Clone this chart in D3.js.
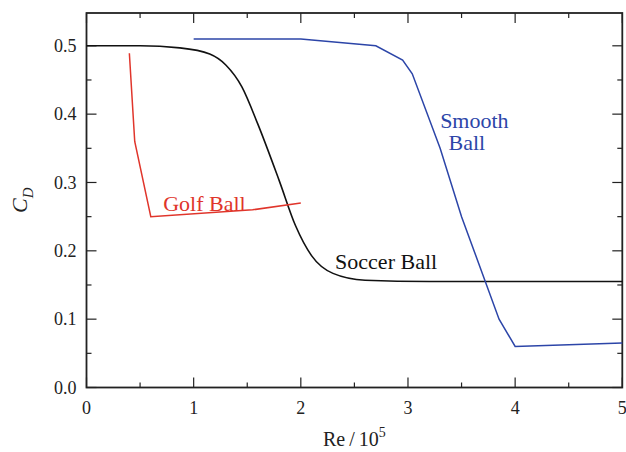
<!DOCTYPE html>
<html>
<head>
<meta charset="utf-8">
<script src="https://cdn.jsdelivr.net/npm/d3@7"></script>
<style>
  body { margin: 0; background: #fff; }
  svg text { font-family: "Liberation Serif", "Times New Roman", serif; }
</style>
</head>
<body>
<svg id="chart" width="626" height="452"></svg>
<script>
// data: [Re/1e5, C_D]
const soccerBall = [
  [0, 0.5], [0.5, 0.5], [0.87, 0.497], [1.15, 0.488], [1.3, 0.472], [1.45, 0.44],
  [1.6, 0.385], [1.8, 0.302], [1.95, 0.237], [2.1, 0.193], [2.3, 0.167],
  [2.6, 0.157], [3.2, 0.155], [5, 0.155]
];
const golfBall = [[0.4, 0.489], [0.45, 0.36], [0.6, 0.25], [1.55, 0.26], [2.0, 0.27]];
const smoothBall = [
  [1.0, 0.51], [2.0, 0.51], [2.7, 0.5], [2.95, 0.479], [3.04, 0.459],
  [3.3, 0.35], [3.5, 0.25], [3.85, 0.1], [4.0, 0.06], [5.0, 0.065]
];
const xMajor = [0, 1, 2, 3, 4, 5];
const xMinor = [0.5, 1.5, 2.5, 3.5, 4.5];
const yMajor = [0, 0.1, 0.2, 0.3, 0.4, 0.5];
const yMinor = [0.05, 0.15, 0.25, 0.35, 0.45];

const svg = d3.select("#chart");
const margin = { top: 13, left: 86.5 };
const innerWidth = 622.3 - margin.left,
  innerHeight = 387.5 - margin.top;

const g = svg.append("g").attr("transform", `translate(${margin.left},${margin.top})`);

const x = d3.scaleLinear().domain([0, 5]).range([0, innerWidth]);
const y = d3.scaleLinear().domain([0, 0.548]).range([innerHeight, 0]);

const axisColor = "#222";

// ticks point inward, on all four sides
function xticks(vals, len) {
  [innerHeight, 0].forEach(base => {
    const dir = base === 0 ? 1 : -1;
    g.selectAll(null).data(vals).enter().append("line")
      .attr("x1", d => x(d)).attr("x2", d => x(d))
      .attr("y1", base).attr("y2", base + dir * len)
      .attr("stroke", axisColor).attr("stroke-width", 1.2);
  });
}
function yticks(vals, len) {
  [0, innerWidth].forEach(base => {
    const dir = base === 0 ? 1 : -1;
    g.selectAll(null).data(vals).enter().append("line")
      .attr("x1", base).attr("x2", base + dir * len)
      .attr("y1", d => y(d)).attr("y2", d => y(d))
      .attr("stroke", axisColor).attr("stroke-width", 1.2);
  });
}
xticks(xMajor, 10);
xticks(xMinor, 5);
yticks(yMajor, 10);
yticks(yMinor, 5);

g.append("rect")
  .attr("width", innerWidth).attr("height", innerHeight)
  .attr("fill", "none").attr("stroke", axisColor).attr("stroke-width", 1.8);

// tick labels
g.selectAll(".xl").data(xMajor).enter().append("text")
  .attr("x", d => x(d)).attr("y", innerHeight + 26)
  .attr("text-anchor", "middle").attr("font-size", 18).attr("fill", axisColor)
  .text(d => d);
g.selectAll(".yl").data(yMajor).enter().append("text")
  .attr("x", -10).attr("y", d => y(d)).attr("dy", "0.35em")
  .attr("text-anchor", "end").attr("font-size", 18).attr("fill", axisColor)
  .text(d => d3.format(".1f")(d));

// axis titles
const xt = svg.append("text")
  .attr("x", margin.left + innerWidth / 2).attr("y", 446)
  .attr("text-anchor", "middle").attr("font-size", 20).attr("fill", axisColor);
xt.append("tspan").text("Re\u2009/\u200910");
xt.append("tspan").attr("dy", -9).attr("font-size", 14).text("5");

const yt = svg.append("text")
  .attr("transform", `translate(27,${margin.top + innerHeight / 2}) rotate(-90)`)
  .attr("text-anchor", "middle").attr("font-size", 22).attr("font-style", "italic")
  .attr("fill", axisColor);
yt.append("tspan").text("C");
yt.append("tspan").attr("dy", 6).attr("font-size", 15).text("D");

// curves
g.append("path").datum(soccerBall)
  .attr("d", d3.line().x(d => x(d[0])).y(d => y(d[1])).curve(d3.curveMonotoneX))
  .attr("fill", "none").attr("stroke", "#111").attr("stroke-width", 1.6);
g.append("path").datum(golfBall)
  .attr("d", d3.line().x(d => x(d[0])).y(d => y(d[1])))
  .attr("fill", "none").attr("stroke", "#e0352b").attr("stroke-width", 1.5);
g.append("path").datum(smoothBall)
  .attr("d", d3.line().x(d => x(d[0])).y(d => y(d[1])))
  .attr("fill", "none").attr("stroke", "#2c45a8").attr("stroke-width", 1.5);

// curve labels
function label(txt, px, py, color) {
  g.append("text").attr("x", x(px)).attr("y", y(py))
    .attr("font-size", 22).attr("fill", color).text(txt);
}
label("Golf Ball", 0.716, 0.258, "#e0352b");
label("Soccer Ball", 2.32, 0.173, "#111");
label("Smooth", 3.30, 0.380, "#2c45a8");
label("Ball", 3.378, 0.348, "#2c45a8");
</script>
</body>
</html>
